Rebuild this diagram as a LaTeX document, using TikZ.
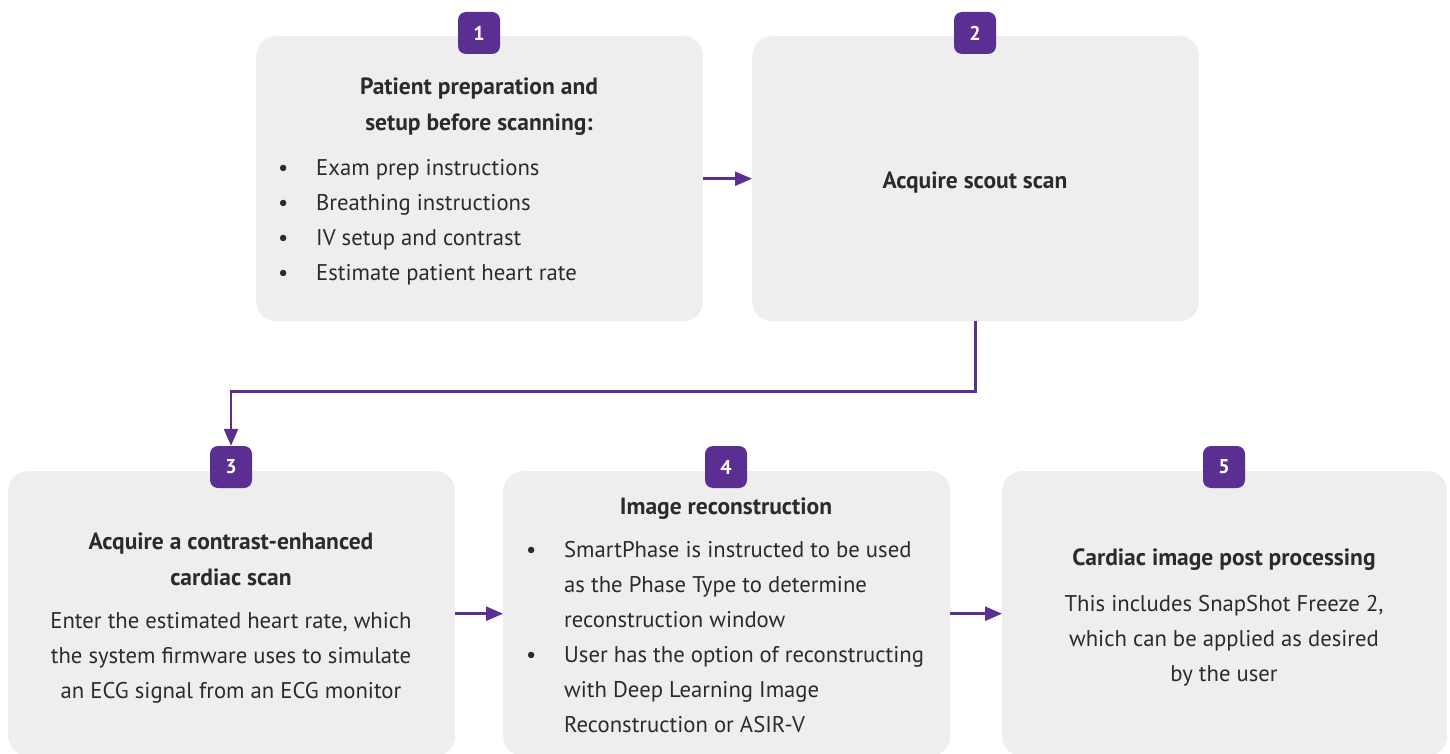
\documentclass[tikz,border=0pt]{standalone}
\usepackage{fontspec}
\setmainfont{PT Sans}
\usetikzlibrary{arrows.meta,positioning}
\definecolor{boxgray}{HTML}{EEEEEE}
\definecolor{purp}{HTML}{5B2E91}
\definecolor{txt}{HTML}{2B2B2B}
\tikzset{
  card/.style={fill=boxgray, draw=none, rounded corners=20pt, minimum width=447pt, minimum height=285pt, anchor=north west, inner sep=0pt},
  badge/.style={fill=purp, text=white, rounded corners=8pt, minimum width=42pt, minimum height=42pt, inner sep=0pt, font=\fontsize{20}{24}\selectfont\bfseries},
  ttl/.style={text=txt, align=center, font=\fontsize{23.5}{36}\selectfont\bfseries},
  body/.style={text=txt, align=center, font=\fontsize{22.7}{35}\selectfont},
  lst/.style={text=txt, align=left, font=\fontsize{22.7}{35}\selectfont, anchor=west, inner sep=0pt},
  arr/.style={draw=purp, line width=2.5pt, -{Triangle[length=17pt,width=14pt]}},
}
\newcommand{\bul}{\makebox[33pt][l]{\hspace{-5pt}•}}
\newcommand{\ind}{\hspace*{33pt}}
\begin{document}
\begin{tikzpicture}[x=1pt,y=-1pt]
\useasboundingbox (0,0) rectangle (1450,754);
% cards
\node[card] (b1) at (256,36) {};
\node[card] (b2) at (752,36) {};
\node[card] (b3) at (8,471) {};
\node[card] (b4) at (503,471) {};
\node[card, minimum width=445pt] (b5) at (1002,471) {};
% badges
\node[badge] (n1) at (479,33) {1};
\node[badge] (n2) at (975,33) {2};
\node[badge] (n3) at (231,467) {3};
\node[badge] (n4) at (726,467) {4};
\node[badge] (n5) at (1224,467) {5};
% box 1
\node[ttl] (t1) at (479,107) {Patient preparation and\\setup before scanning:};
\node[lst] (l1) at (283,222) {\bul Exam prep instructions\\\bul Breathing instructions\\\bul IV setup and contrast\\\bul Estimate patient heart rate};
% box 2
\node[ttl] (t2) at (975,182) {Acquire scout scan};
% box 3
\node[ttl] (t3) at (231,559) {Acquire a contrast-enhanced\\cardiac scan};
\node[body] (d3) at (231,658) {Enter the estimated heart rate, which\\the system firmware uses to simulate\\an ECG signal from an ECG monitor};
% box 4
\node[ttl] (t4) at (726,509) {Image reconstruction};
\node[lst] (l4) at (531,637) {\bul SmartPhase is instructed to be used\\\ind as the Phase Type to determine\\\ind reconstruction window\\\bul User has the option of reconstructing\\\ind with Deep Learning Image\\\ind Reconstruction or ASIR-V};
% box 5
\node[ttl] (t5) at (1224,560) {Cardiac image post processing};
\node[body] (d5) at (1224,641) {This includes SnapShot Freeze 2,\\which can be applied as desired\\by the user};
% arrows
\draw[arr] (b1.east) -- (b2.west);
\draw[arr] (b2.south) -- ++(0,70) -| (n3.north);
\draw[arr] (b3.east) -- (b4.west);
\draw[arr] (b4.east) -- (b5.west);
\end{tikzpicture}
\end{document}
